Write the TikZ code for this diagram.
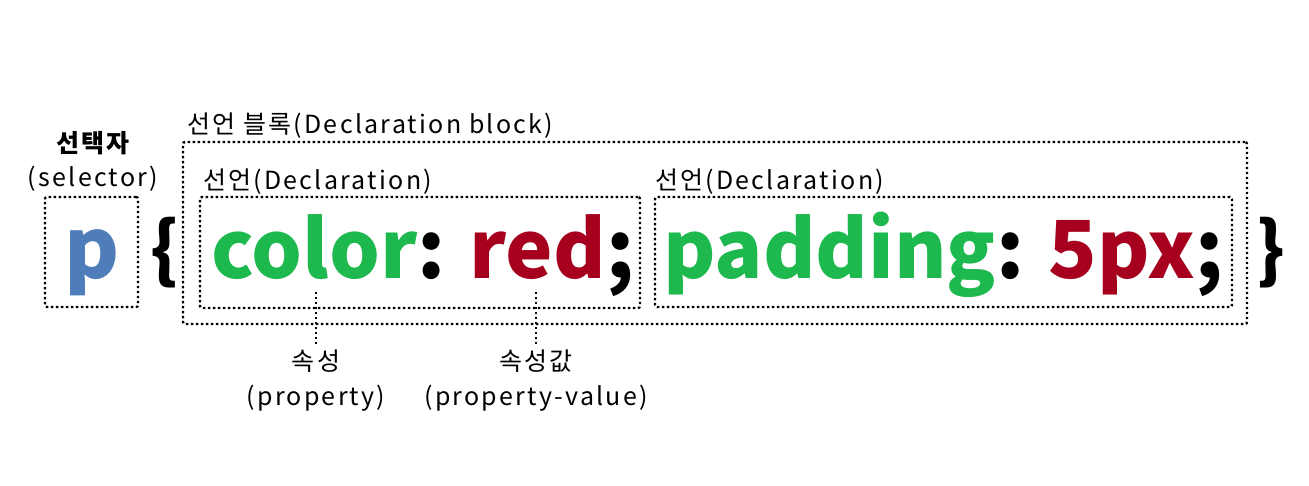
\documentclass[tikz,border=0pt]{standalone}
\usepackage{fontspec}
\setmainfont{Noto Sans CJK KR}
\newfontfamily\lblfont[LetterSpace=9]{Noto Sans CJK KR}
\usetikzlibrary{positioning}
\definecolor{selblue}{RGB}{79,125,186}
\definecolor{propgreen}{RGB}{29,185,78}
\definecolor{valred}{RGB}{166,0,30}
\tikzset{
  dot box/.style={
    draw, dash pattern=on 2.4pt off 2.6pt, line width=2.4pt,
    rounded corners=2pt, inner sep=0pt
  },
  dot line/.style={dash pattern=on 2.4pt off 2.6pt, line width=2.4pt},
  code text/.style={font=\fontsize{80}{80}\selectfont\bfseries, inner sep=0pt, anchor=base west},
  brace text/.style={font=\fontsize{72}{72}\selectfont\bfseries, inner sep=0pt},
  label text/.style={font=\lblfont\fontsize{25}{25}\selectfont, inner sep=0pt}
}

\begin{document}
\begin{tikzpicture}[x=1pt, y=-1pt]
  \useasboundingbox (0,0) rectangle (1309,485);
  % selector
  \node[dot box, minimum width=93, minimum height=110] (selbox) at (91.5,252) {};
  \node[code text, anchor=base, text=selblue, font=\fontsize{84}{84}\selectfont\bfseries] (sel) at (92,278) {p};
  \node[label text, font=\lblfont\fontsize{25}{25}\selectfont\bfseries] (selko) at (93,143) {선택자};
  \node[label text, anchor=base] (selen) at (93,186) {(selector)};
  % declaration block
  \node[dot box, minimum width=1064, minimum height=182] (block) at (715,233) {};
  \node[label text, anchor=base west] (blocklbl) at (187,133) {선언 블록(Declaration block)};
  \node[brace text] (lbrace) at (165,253) {\{};
  \node[brace text] (rbrace) at (1271,253) {\}};
  % declarations
  \node[dot box, minimum width=440, minimum height=111] (decl1) at (420,252.5) {};
  \node[dot box, minimum width=577, minimum height=110] (decl2) at (943.5,252) {};
  \node[label text, anchor=base west] (decl1lbl) at (203,189) {선언(Declaration)};
  \node[label text, anchor=base west] (decl2lbl) at (655,189) {선언(Declaration)};
  \node[code text] (code1) at (211,278) {\textcolor{propgreen}{color}: \textcolor{valred}{red};};
  \node[code text] (code2) at (663,278) {\textcolor{propgreen}{padding}: \textcolor{valred}{5px};};
  % property / value
  \coordinate (proptop) at (316,292);
  \coordinate (valtop) at (536,292);
  \node[label text] (propko) at (316,361) {속성};
  \node[label text] (propen) at (316,398) {(property)};
  \node[label text] (valko) at (536,361) {속성값};
  \node[label text] (valen) at (536,398) {(property-value)};
  \draw[dot line, shorten >=5pt] (proptop) -- (propko.north);
  \draw[dot line, shorten >=5pt] (valtop) -- (valko.north);
\end{tikzpicture}
\end{document}
